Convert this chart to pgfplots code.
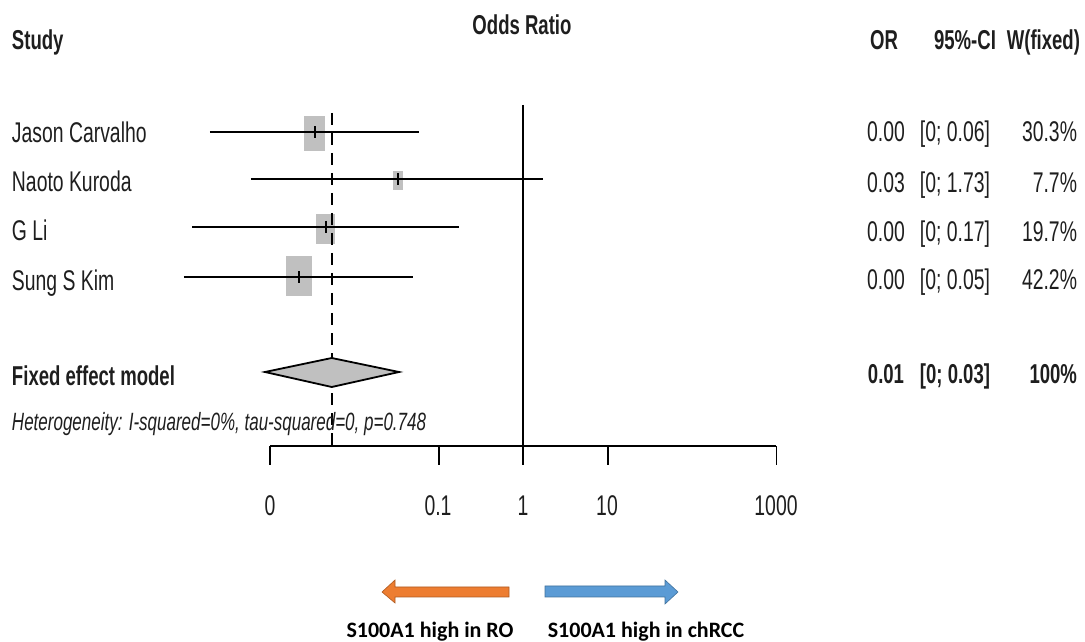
\documentclass[border=0pt]{standalone}
\usepackage{pgfplots}
\pgfplotsset{compat=1.18}
\usepackage{fontspec}
\setmainfont{Liberation Sans}[FakeStretch=0.68]
\newfontfamily\calib{Carlito}
\definecolor{boxgray}{RGB}{192,192,192}
\definecolor{txt}{RGB}{30,30,30}
\definecolor{arrorange}{RGB}{237,125,49}
\definecolor{arrorangeD}{RGB}{174,90,33}
\definecolor{arrblue}{RGB}{91,155,213}
\definecolor{arrblueD}{RGB}{65,113,156}
\newcommand{\rf}{\fontsize{28.5}{32}\selectfont}
\newcommand{\bff}{\fontsize{27.3}{31}\selectfont\bfseries}
\newcommand{\itf}{\fontsize{25}{29}\selectfont\itshape}
\begin{document}
\begin{tikzpicture}[x=1pt,y=1pt]
\begin{axis}[at={(0,0)}, anchor=south west, scale only axis,
  width=1085pt, height=642pt, xmode=log, xmin=6.31e-7, xmax=4.52e6,
  ymin=0, ymax=642, y dir=reverse, axis lines=none, clip=false]
% study boxes (size ~ weight)
\addplot[fill=boxgray, draw=none] coordinates {(0.00252,116) (0.00446,116) (0.00446,151) (0.00252,151)} -- cycle;
\addplot[fill=boxgray, draw=none] coordinates {(0.0286,171) (0.0376,171) (0.0376,190) (0.0286,190)} -- cycle;
\addplot[fill=boxgray, draw=none] coordinates {(0.0035,214) (0.00588,214) (0.00588,244) (0.0035,244)} -- cycle;
\addplot[fill=boxgray, draw=none] coordinates {(0.00154,256) (0.00313,256) (0.00313,296) (0.00154,296)} -- cycle;
% reference line at OR = 1
\addplot[black, line width=1.7pt] coordinates {(1,105) (1,446)};
% fixed-effect estimate (dashed)
\addplot[black, line width=1.7pt, dash pattern=on 12pt off 8pt] coordinates {(0.0054,113) (0.0054,446)};
% confidence intervals
\addplot[black, line width=2.2pt] coordinates {(1.94e-4,132.3) (0.0581,132.3)};
\addplot[black, line width=2.2pt] coordinates {(5.94e-4,179.3) (1.73,179.3)};
\addplot[black, line width=2.2pt] coordinates {(1.19e-4,227) (0.173,227)};
\addplot[black, line width=2.2pt] coordinates {(9.5e-5,277.3) (0.0493,277.3)};
% point estimates
\addplot[only marks, mark=|, mark size=6pt, mark options={line width=1.6pt, black}] coordinates {(0.0034,132.3) (0.0327,179.3) (0.00459,227) (0.0022,277.3)};
% diamond
\addplot[fill=boxgray, draw=black, line width=1.8pt] coordinates {(8.7e-4,372) (0.00538,358) (0.0337,372) (0.00538,387)} -- cycle;
% scale
\addplot[black, line width=1.7pt] coordinates {(0.001,446) (1000,446)};
\addplot[black, line width=1.7pt] coordinates {(0.001,446) (0.001,465)};
\addplot[black, line width=1.7pt] coordinates {(0.1,446) (0.1,465)};
\addplot[black, line width=1.7pt] coordinates {(1,446) (1,465)};
\addplot[black, line width=1.7pt] coordinates {(10,446) (10,465)};
\addplot[black, line width=1.7pt] coordinates {(1000,446) (1000,465)};
\end{axis}
\path (0,0) rectangle (1085,642);
\tikzset{every node/.style={inner sep=0pt, outer sep=0pt, text=txt}}
% headers
\node[anchor=base west, font=\bff] at (12,592) {Study};
\node[anchor=base, font=\bff] at (522,607) {Odds Ratio};
\node[anchor=base, font=\bff] at (884,592) {OR};
\node[anchor=base, font=\bff] at (965,592) {95\%-CI};
\node[anchor=base east, font=\bff] at (1080,592) {W(fixed)};
% study names
\node[anchor=base west, font=\rf] at (12,499) {Jason Carvalho};
\node[anchor=base west, font=\rf] at (12,450) {Naoto Kuroda};
\node[anchor=base west, font=\rf] at (12,401) {G Li};
\node[anchor=base west, font=\rf] at (12,351) {Sung S Kim};
\node[anchor=base west, font=\bff] at (12,256) {Fixed effect model};
\node[anchor=base west, font=\itf] at (12,211) {Heterogeneity: I-squared=0\%, tau-squared=0, p=0.748};
% right columns
\node[anchor=base, font=\rf] at (886,500) {0.00};
\node[anchor=base, font=\rf] at (955,500) {[0; 0.06]};
\node[anchor=base east, font=\rf] at (1077,500) {30.3\%};
\node[anchor=base, font=\rf] at (886,449) {0.03};
\node[anchor=base, font=\rf] at (955,449) {[0; 1.73]};
\node[anchor=base east, font=\rf] at (1077,449) {7.7\%};
\node[anchor=base, font=\rf] at (886,400) {0.00};
\node[anchor=base, font=\rf] at (955,400) {[0; 0.17]};
\node[anchor=base east, font=\rf] at (1077,400) {19.7\%};
\node[anchor=base, font=\rf] at (886,352) {0.00};
\node[anchor=base, font=\rf] at (955,352) {[0; 0.05]};
\node[anchor=base east, font=\rf] at (1077,352) {42.2\%};
\node[anchor=base, font=\bff] at (886,258) {0.01};
\node[anchor=base, font=\bff] at (955,258) {[0; 0.03]};
\node[anchor=base east, font=\bff] at (1077,258) {100\%};
% tick labels
\node[anchor=base, font=\rf] at (270,126) {0};
\node[anchor=base, font=\rf] at (438,126) {0.1};
\node[anchor=base, font=\rf] at (523,126) {1};
\node[anchor=base, font=\rf] at (607,126) {10};
\node[anchor=base, font=\rf] at (776,126) {1000};
% direction arrows
\filldraw[fill=arrorange, draw=arrorangeD, line width=0.6pt] (382,50) -- (395,62) -- (395,55) -- (509,55) -- (509,45) -- (395,45) -- (395,39) -- cycle;
\filldraw[fill=arrblue, draw=arrblueD, line width=0.6pt] (545,56) -- (665,56) -- (665,62) -- (678,50) -- (665,38) -- (665,45) -- (545,45) -- cycle;
\node[anchor=base, font=\calib\fontsize{22}{25}\selectfont\bfseries, text=black] at (430,4) {S100A1 high in RO};
\node[anchor=base, font=\calib\fontsize{22}{25}\selectfont\bfseries, text=black] at (646,4) {S100A1 high in chRCC};
\end{tikzpicture}
\end{document}
